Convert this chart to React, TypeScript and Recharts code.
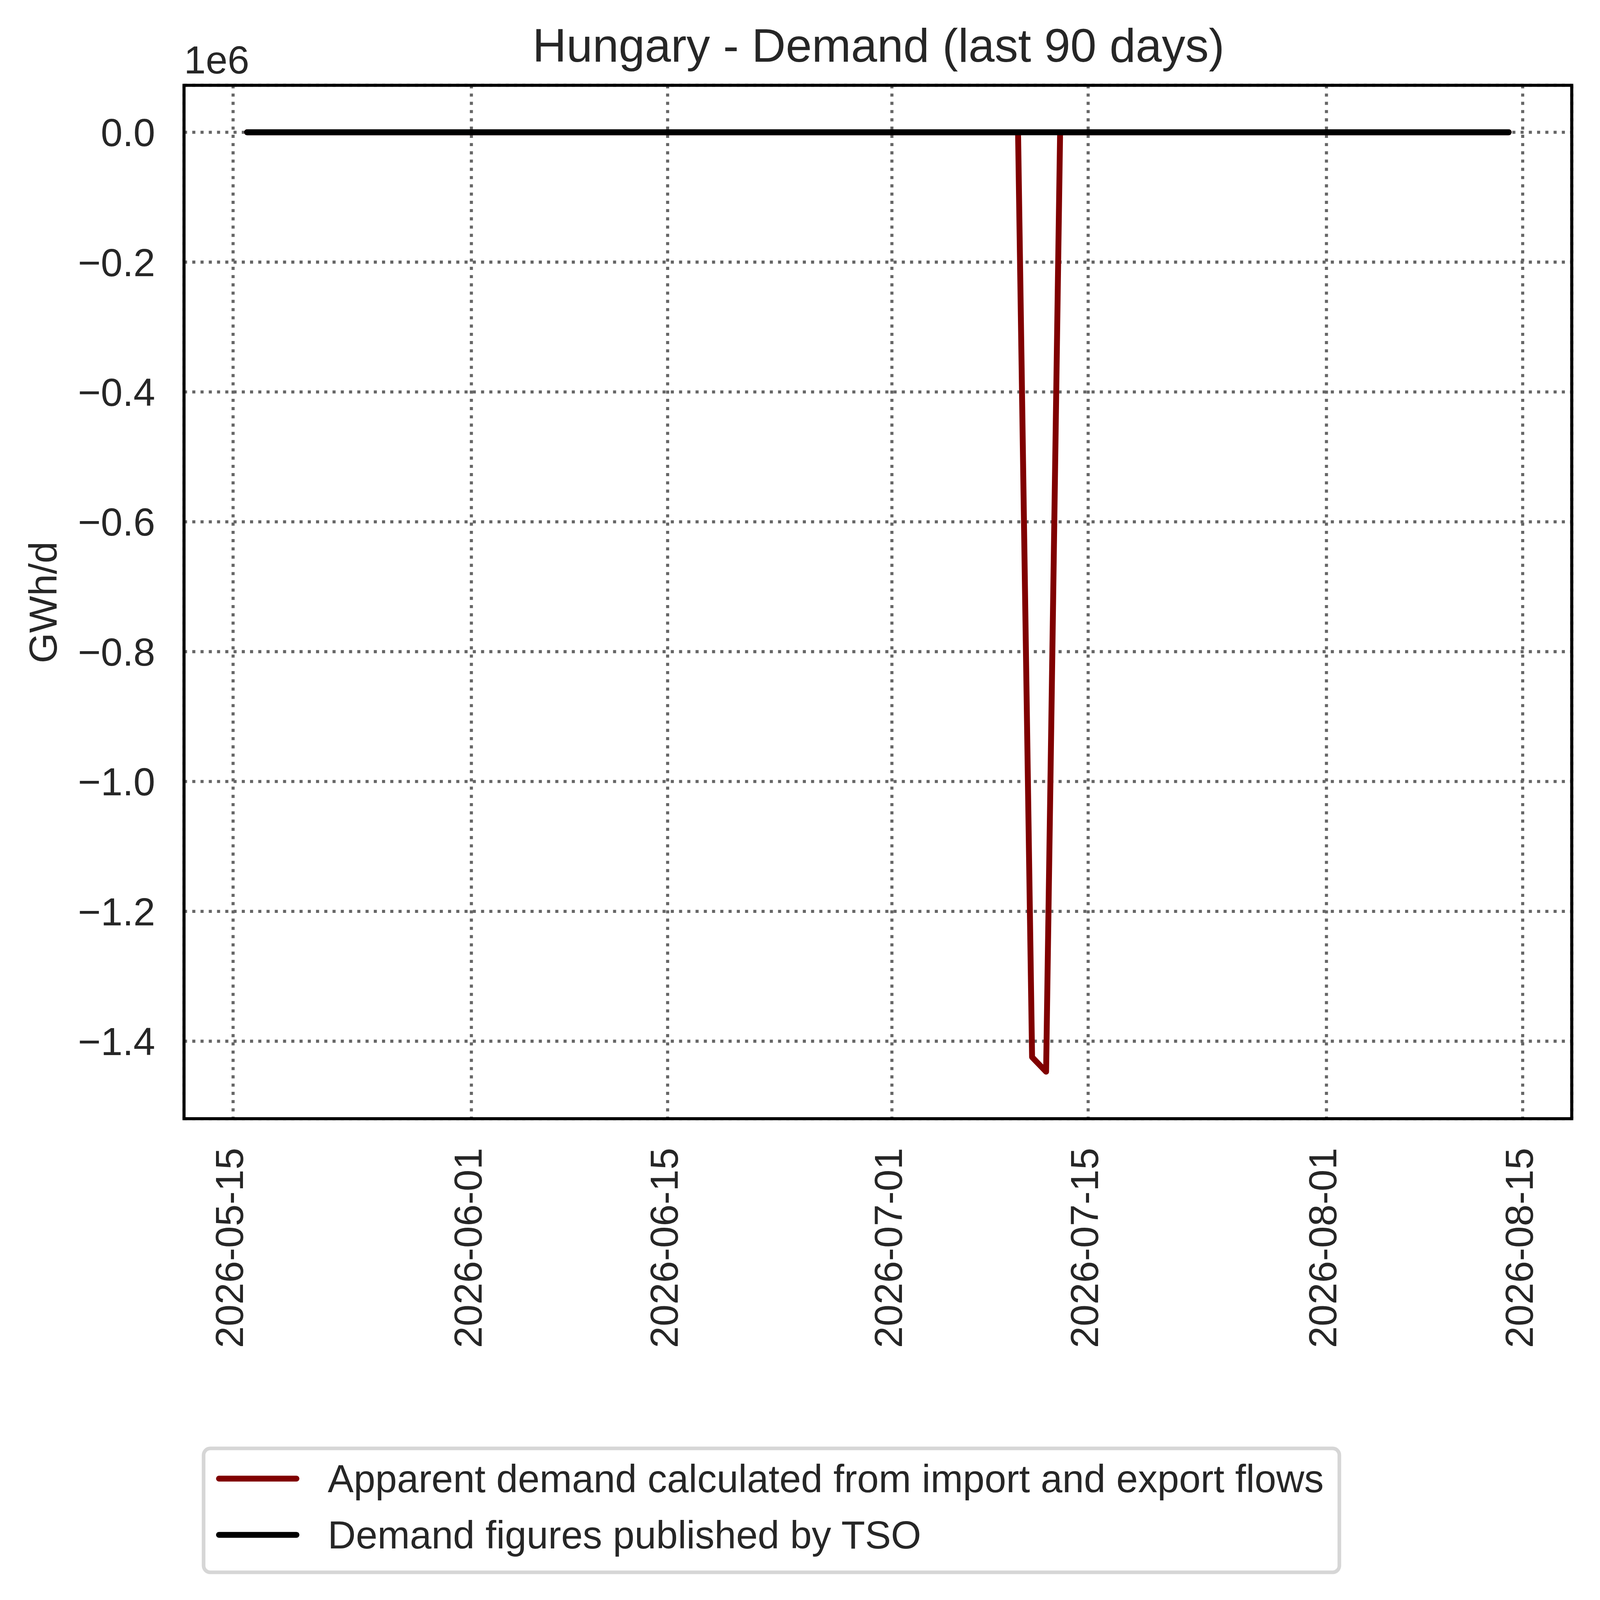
import { LineChart, Line, XAxis, YAxis, CartesianGrid, ReferenceArea } from "recharts";

const W = 5718;
const H = 5721;
const FONT = "'Liberation Sans', Arial, sans-serif";
const TEXT = "#262626";
const DAY = 86400000;

const TITLE = "Hungary - Demand (last 90 days)";
const Y_LABEL = "GWh/d";
const OFFSET_LABEL = "1e6";

// daily values, first point 2026-05-16
const FIRST_DAY = "2026-05-16";

const APPARENT_DEMAND = [
  0, 0, 0, 0, 0, 0, 0, 0, 0, 0,
  0, 0, 0, 0, 0, 0, 0, 0, 0, 0,
  0, 0, 0, 0, 0, 0, 0, 0, 0, 0,
  0, 0, 0, 0, 0, 0, 0, 0, 0, 0,
  0, 0, 0, 0, 0, 0, 0, 0, 0, 0,
  0, 0, 0, 0, 0, 0, -1424500, -1447000, 0, 0,
  0, 0, 0, 0, 0, 0, 0, 0, 0, 0,
  0, 0, 0, 0, 0, 0, 0, 0, 0, 0,
  0, 0, 0, 0, 0, 0, 0, 0, 0, 0,
  0,
];

const TSO_DEMAND = [
  0, 0, 0, 0, 0, 0, 0, 0, 0, 0,
  0, 0, 0, 0, 0, 0, 0, 0, 0, 0,
  0, 0, 0, 0, 0, 0, 0, 0, 0, 0,
  0, 0, 0, 0, 0, 0, 0, 0, 0, 0,
  0, 0, 0, 0, 0, 0, 0, 0, 0, 0,
  0, 0, 0, 0, 0, 0, 0, 0, 0, 0,
  0, 0, 0, 0, 0, 0, 0, 0, 0, 0,
  0, 0, 0, 0, 0, 0, 0, 0, 0, 0,
  0, 0, 0, 0, 0, 0, 0, 0, 0, 0,
  0,
];

const X_TICKS = [
  "2026-05-15", "2026-06-01", "2026-06-15", "2026-07-01",
  "2026-07-15", "2026-08-01", "2026-08-15",
];
const Y_TICKS = [0, -200000, -400000, -600000, -800000, -1000000, -1200000, -1400000];

const SERIES = [
  { key: "apparent", name: "Apparent demand calculated from import and export flows", color: "#800000" },
  { key: "tso", name: "Demand figures published by TSO", color: "#000000" },
];

const start = Date.parse(FIRST_DAY);
const data = APPARENT_DEMAND.map((v, i) => ({
  t: start + i * DAY,
  apparent: v,
  tso: TSO_DEMAND[i],
}));

// matplotlib-style 5% margins
function pad(lo: number, hi: number): [number, number] {
  const m = (hi - lo) * 0.05;
  return [lo - m, hi + m];
}

const xDomain = pad(data[0].t, data[data.length - 1].t);
const allY = [...APPARENT_DEMAND, ...TSO_DEMAND];
const yDomain = pad(Math.min(...allY), Math.max(...allY));

const fmtDate = (v: number) => new Date(v).toISOString().slice(0, 10);
const fmtY = (v: number) => (v / 1e6).toFixed(1).replace("-", "\u2212");

function DateTick({ x, y, payload }: any) {
  return (
    <text
      x={x}
      y={y}
      dy={36}
      transform={`rotate(-90 ${x} ${y})`}
      textAnchor="end"
      fill={TEXT}
      fontSize={140}
      fontFamily={FONT}
    >
      {fmtDate(payload.value)}
    </text>
  );
}

export default function App() {
  const legendRows = [5287, 5488];
  // shrink to the real viewport if it is smaller than the design size
  const s =
    typeof window === "undefined"
      ? 1
      : Math.min(1, window.innerWidth / W, window.innerHeight / H);
  return (
    <div
      style={{
        position: "absolute",
        left: 0,
        top: 0,
        width: W,
        height: H,
        background: "#fff",
        transform: `scale(${s})`,
        transformOrigin: "0 0",
      }}
    >
      <LineChart width={W} height={H} data={data} margin={{ top: 305, right: 98, bottom: 0, left: 0 }}>
        <CartesianGrid stroke="#666666" strokeWidth={11} strokeDasharray="11 18.5" />
        <XAxis
          dataKey="t"
          type="number"
          domain={xDomain}
          ticks={X_TICKS.map((d) => Date.parse(d))}
          interval={0}
          height={1721}
          axisLine={false}
          tickLine={false}
          tickSize={0}
          tickMargin={104}
          tick={<DateTick />}
        />
        <YAxis
          type="number"
          domain={yDomain}
          ticks={Y_TICKS}
          interval={0}
          width={658}
          axisLine={false}
          tickLine={false}
          tickSize={0}
          tickMargin={103}
          tickFormatter={fmtY}
          tick={{ fill: TEXT, fontSize: 140, fontFamily: FONT }}
        />
        <ReferenceArea
          x1={xDomain[0]}
          x2={xDomain[1]}
          y1={yDomain[0]}
          y2={yDomain[1]}
          fill="none"
          fillOpacity={0}
          stroke="#000"
          strokeWidth={11}
          ifOverflow="visible"
        />
        {SERIES.map((sr) => (
          <Line
            key={sr.key}
            type="linear"
            dataKey={sr.key}
            name={sr.name}
            stroke={sr.color}
            strokeWidth={21}
            strokeLinecap="round"
            strokeLinejoin="round"
            dot={false}
            activeDot={false}
            isAnimationActive={false}
          />
        ))}
      </LineChart>
      <svg
        width={W}
        height={H}
        style={{ position: "absolute", left: 0, top: 0, pointerEvents: "none" }}
        fontFamily={FONT}
      >
        <text x={3141} y={221} textAnchor="middle" fontSize={168} fill={TEXT}>{TITLE}</text>
        <text x={658} y={263} fontSize={140} fill={TEXT}>{OFFSET_LABEL}</text>
        <text x={203} y={2154} transform="rotate(-90 203 2154)" textAnchor="middle" fontSize={140} fill={TEXT}>
          {Y_LABEL}
        </text>
        <rect x={728} y={5179} width={4061} height={443} rx={24} fill="#fff" stroke="#d6d6d6" strokeWidth={13} />
        {SERIES.map((sr, i) => (
          <g key={sr.key}>
            <line x1={783} x2={1060} y1={legendRows[i]} y2={legendRows[i]} stroke={sr.color} strokeWidth={21} strokeLinecap="round" />
            <text x={1172} y={legendRows[i] + 49} fontSize={139} fill={TEXT}>{sr.name}</text>
          </g>
        ))}
      </svg>
    </div>
  );
}
